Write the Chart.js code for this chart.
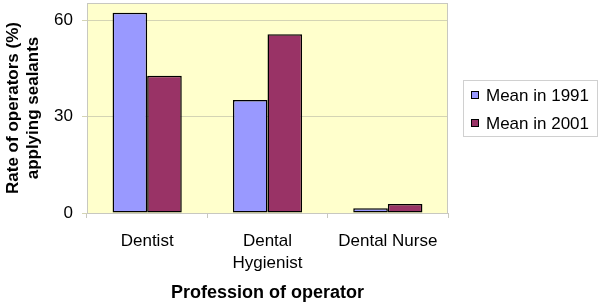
<!DOCTYPE html>
<html>
<head>
<meta charset="utf-8">
<script src="https://cdn.jsdelivr.net/npm/chart.js@4"></script>
<style>
  html, body { margin: 0; padding: 0; background: #fff; }
  #wrap { width: 600px; height: 305px; }
</style>
</head>
<body>
<div id="wrap"><canvas id="grafico"></canvas></div>
<script>
const categorias = ["Dentist", ["Dental", "Hygienist"], "Dental Nurse"];
const serie1991 = [62.3, 35.1, 1.5];
const serie2001 = [42.7, 55.6, 2.8];
const nombres = ["Mean in 1991", "Mean in 2001"];
const marcasY = [0, 30, 60];

const FONT = "'Liberation Sans', Arial, sans-serif";

// fondo amarillo y borde del area del grafico
const fondoPlot = {
  id: "fondoPlot",
  beforeDraw(chart) {
    const {ctx, chartArea: a} = chart;
    ctx.save();
    ctx.fillStyle = "#ffffcc";
    ctx.fillRect(a.left, a.top, a.right - a.left, a.bottom - a.top);
    ctx.restore();
  },
  afterDraw(chart) {
    const {ctx, chartArea: a} = chart;
    ctx.save();
    ctx.strokeStyle = "#c8c8c0";
    ctx.lineWidth = 1;
    ctx.strokeRect(a.left + 0.5, a.top + 0.5, a.right - a.left - 1, a.bottom - a.top);
    ctx.restore();
  }
};

// leyenda con recuadro, como en Excel
const leyenda = {
  id: "leyenda",
  afterDraw(chart) {
    const ctx = chart.ctx;
    ctx.save();
    ctx.fillStyle = "#fff";
    ctx.fillRect(463, 80, 135, 57);
    ctx.strokeStyle = "#d0d0d0";
    ctx.lineWidth = 1;
    ctx.strokeRect(463.5, 80.5, 134, 56);
    chart.data.datasets.forEach((ds, i) => {
      const y = 95 + i * 28;
      ctx.fillStyle = ds.backgroundColor;
      ctx.fillRect(471, y - 4, 8, 8);
      ctx.strokeStyle = "#000";
      ctx.strokeRect(471.5, y - 3.5, 7, 7);
      ctx.fillStyle = "#000";
      ctx.font = "17px " + FONT;
      ctx.textBaseline = "middle";
      ctx.textAlign = "left";
      ctx.fillText(ds.label, 486, y + 1);
    });
    ctx.restore();
  }
};

const data = {
  labels: categorias,
  datasets: [
    {
      label: nombres[0],
      backgroundColor: "#9999ff",
      borderColor: "#000",
      borderWidth: 1.5,
      borderSkipped: false,
      data: serie1991,
    },
    {
      label: nombres[1],
      backgroundColor: "#993366",
      borderColor: "#000",
      borderWidth: 1.5,
      borderSkipped: false,
      data: serie2001,
    },
  ],
};

const config = {
  type: "bar",
  data: data,
  options: {
    responsive: true,
    maintainAspectRatio: false,
    animation: false,
    layout: { padding: { top: 3, right: 152, left: 0, bottom: 0 } },
    plugins: {
      legend: { display: false },
      tooltip: { enabled: false },
    },
    datasets: {
      bar: { categoryPercentage: 0.575, barPercentage: 1.0 }
    },
    scales: {
      x: {
        afterFit(scale) {
          scale.height = 92;
          scale.paddingLeft = 0;
          scale.paddingRight = 0;
        },
        grid: {
          offset: true,
          drawOnChartArea: false,
          tickLength: 5,
          color: "#c8c8c0",
        },
        border: { display: false },
        ticks: {
          color: "#000",
          padding: 13,
          maxRotation: 0,
          font: { family: FONT, size: 17, lineHeight: 1.25 },
        },
        title: {
          display: true,
          text: "Profession of operator",
          color: "#000",
          padding: { top: 0, bottom: 1 },
          font: { family: FONT, size: 18, weight: "bold", lineHeight: 1.2 },
        },
      },
      y: {
        min: 0,
        max: 65.3,
        afterFit(scale) {
          scale.width = 87;
          scale.paddingTop = 0;
          scale.paddingBottom = 0;
        },
        afterBuildTicks(scale) { scale.ticks = marcasY.map(v => ({ value: v })); },
        grid: {
          color: "#d4d4b4",
          tickLength: 5,
        },
        border: { display: false },
        ticks: {
          color: "#000",
          padding: 9,
          font: { family: FONT, size: 17 },
        },
        title: {
          display: true,
          text: ["Rate of operators (%)", "applying sealants"],
          color: "#000",
          padding: { top: 3, bottom: 0 },
          font: { family: FONT, size: 17, weight: "bold", lineHeight: 1.2 },
        },
      },
    },
  },
  plugins: [fondoPlot, leyenda],
};

const myChart = new Chart(document.getElementById("grafico"), config);
</script>
</body>
</html>
